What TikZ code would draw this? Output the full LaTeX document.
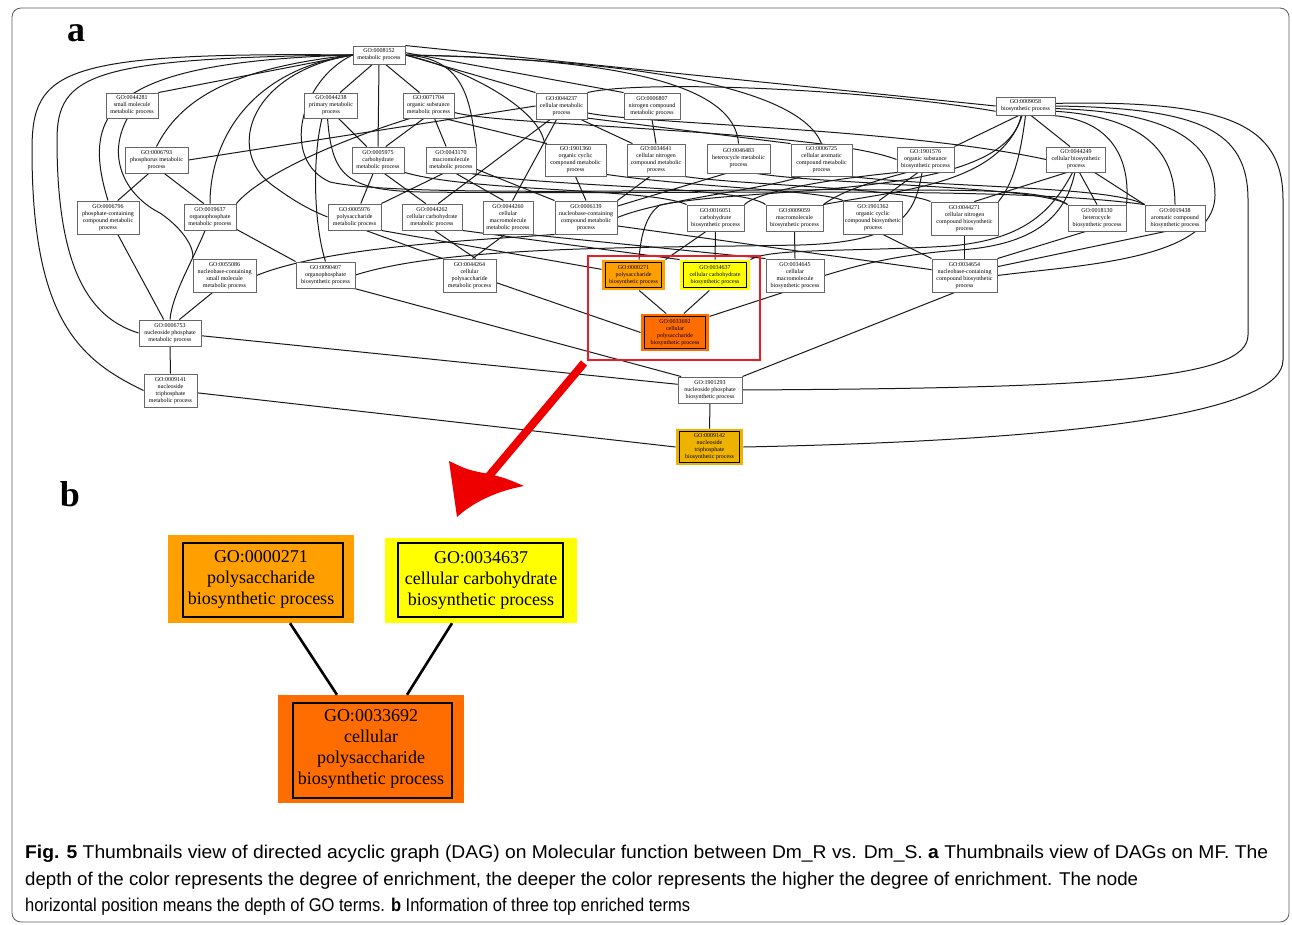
\documentclass[tikz,border=0pt]{standalone}
\usepackage{fontspec}
\setmainfont{Liberation Serif}
\newfontfamily\capfont{Liberation Sans}
\usetikzlibrary{calc}
\pgfdeclarelayer{bg}
\pgfsetlayers{bg,main}
\definecolor{goorange}{RGB}{255,160,0}
\definecolor{goyellow}{RGB}{255,255,0}
\definecolor{godark}{RGB}{255,108,0}
\definecolor{gogold}{RGB}{238,178,0}
\definecolor{arrowred}{RGB}{238,0,0}
\definecolor{boxred}{RGB}{235,28,36}
\definecolor{framegray}{RGB}{90,90,90}
\tikzset{
  gobox/.style={draw=black!60, line width=0.9pt, fill=white, align=center, inner sep=1pt,
    font=\fontsize{6}{7}\selectfont},
  colbox/.style={gobox, draw=none},
  e/.style={draw=black!90, line width=1pt},
  bigbox/.style={draw=none, align=center, inner sep=0pt, font=\fontsize{18}{21}\selectfont},
  be/.style={draw=black, line width=2.6pt},
  panellabel/.style={inner sep=0pt, font=\bfseries\fontsize{36}{36}\selectfont},
  capline/.style={anchor=base west, inner sep=0pt},
}
\newcommand\CapSize{\fontsize{18.5}{20}\selectfont}
\newcommand\CapLineA{\textbf{Fig. 5} Thumbnails view of directed acyclic graph (DAG) on Molecular function between Dm\_R vs. Dm\_S. \textbf{a} Thumbnails view of DAGs on MF. The}
\newcommand\CapLineB{depth of the color represents the degree of enrichment, the deeper the color represents the higher the degree of enrichment. The node}
\newcommand\CapLineC{horizontal position means the depth of GO terms. \textbf{b} Information of three top enriched terms}
\newlength\CapWd
\newcommand\GoNode[7][gobox]{\node[#1,minimum width=#5pt,minimum height=#6pt] (#2) at (#3,#4) {#7};}
\newcommand\InnerBox[3]{\draw[black, line width=0.8pt] ($(#1.north west)+(#2,#3)$) rectangle ($(#1.south east)+(-#2,-#3)$);}
\begin{document}
\settowidth\CapWd{\capfont\CapSize\CapLineA}%
\pgfmathsetmacro\CapSxA{1243/\CapWd}%
\settowidth\CapWd{\capfont\CapSize\CapLineB}%
\pgfmathsetmacro\CapSxB{1113/\CapWd}%
\settowidth\CapWd{\capfont\CapSize\CapLineC}%
\pgfmathsetmacro\CapSxC{665/\CapWd}%
\newfontfamily\capfontA[FakeStretch=\CapSxA]{Liberation Sans}%
\newfontfamily\capfontB[FakeStretch=\CapSxB]{Liberation Sans}%
\newfontfamily\capfontC[FakeStretch=\CapSxC]{Liberation Sans}%
\begin{tikzpicture}[x=1pt,y=-1pt]
\useasboundingbox (0,0) rectangle (1292,925);
\draw[framegray, line width=0.8pt, rounded corners=9pt] (12,8) rectangle (1289,922);

\node[panellabel] (la) at (76,33) {a};
\node[panellabel] (lb) at (70,494) {b};

% ---------- panel a nodes ----------
\GoNode{n8152}{379}{55}{52}{18}{GO:0008152\\metabolic process}
\GoNode{n44281}{132}{105.5}{52}{25}{GO:0044281\\small molecule\\metabolic process}
\GoNode{n44238}{331}{105.5}{53}{25}{GO:0044238\\primary metabolic\\process}
\GoNode{n71704}{428.5}{105.5}{51}{25}{GO:0071704\\organic substance\\metabolic process}
\GoNode{n44237}{561.5}{106}{51}{26}{GO:0044237\\cellular metabolic\\process}
\GoNode{n6807}{652}{106}{56}{26}{GO:0006807\\nitrogen compound\\metabolic process}
\GoNode{n9058}{1025.5}{106}{59}{18}{GO:0009058\\biosynthetic process}
\GoNode{n6793}{156.5}{160}{63}{26}{GO:0006793\\phosphorus metabolic\\process}
\GoNode{n5975}{378}{160}{52}{26}{GO:0005975\\carbohydrate\\metabolic process}
\GoNode{n43170}{451}{160}{50}{26}{GO:0043170\\macromolecule\\metabolic process}
\GoNode{n1901360}{575.5}{160}{61}{32}{GO:1901360\\organic cyclic\\compound metabolic\\process}
\GoNode{n34641}{656}{160}{58}{32}{GO:0034641\\cellular nitrogen\\compound metabolic\\process}
\GoNode{n46483}{738.5}{158.5}{63}{29}{GO:0046483\\heterocycle metabolic\\process}
\GoNode{n6725}{821.5}{160}{61}{32}{GO:0006725\\cellular aromatic\\compound metabolic\\process}
\GoNode{n1901576}{925.5}{159.5}{57}{25}{GO:1901576\\organic substance\\biosynthetic process}
\GoNode{n44249}{1076}{159.5}{59}{25}{GO:0044249\\cellular biosynthetic\\process}
\GoNode{n6796}{108}{217.5}{62}{33}{GO:0006796\\phosphate-containing\\compound metabolic\\process}
\GoNode{n19637}{210}{217}{52}{26}{GO:0019637\\organophosphate\\metabolic process}
\GoNode{n5976}{354.5}{217}{53}{26}{GO:0005976\\polysaccharide\\metabolic process}
\GoNode{n44262}{432}{217}{60}{26}{GO:0044262\\cellular carbohydrate\\metabolic process}
\GoNode{n44260}{508}{217.5}{50}{33}{GO:0044260\\cellular\\macromolecule\\metabolic process}
\GoNode{n6139}{586}{217.5}{62}{33}{GO:0006139\\nucleobase-containing\\compound metabolic\\process}
\GoNode{n16051}{715.5}{218}{57}{26}{GO:0016051\\carbohydrate\\biosynthetic process}
\GoNode{n9059}{794.5}{218}{57}{26}{GO:0009059\\macromolecule\\biosynthetic process}
\GoNode{n1901362}{873}{217.5}{59}{33}{GO:1901362\\organic cyclic\\compound biosynthetic\\process}
\GoNode{n44271}{964.5}{218.5}{67}{33}{GO:0044271\\cellular nitrogen\\compound biosynthetic\\process}
\GoNode{n18130}{1097}{218}{58}{26}{GO:0018130\\heterocycle\\biosynthetic process}
\GoNode{n19438}{1175}{218}{60}{26}{GO:0019438\\aromatic compound\\biosynthetic process}
\GoNode{n55086}{224.5}{275.5}{63}{33}{GO:0055086\\nucleobase-containing\\small molecule\\metabolic process}
\GoNode{n90407}{325.5}{275}{59}{26}{GO:0090407\\organophosphate\\biosynthetic process}
\GoNode{n44264}{469.5}{275.5}{53}{33}{GO:0044264\\cellular\\polysaccharide\\metabolic process}
\GoNode[colbox,fill=goorange]{n271}{633.5}{275}{63}{30}{GO:0000271\\polysaccharide\\biosynthetic process}
\GoNode[colbox,fill=goyellow]{n34637}{715}{275}{70}{30}{GO:0034637\\cellular carbohydrate\\biosynthetic process}
\GoNode{n34645}{795}{275.5}{58}{33}{GO:0034645\\cellular\\macromolecule\\biosynthetic process}
\GoNode{n34654}{964.5}{275.5}{65}{33}{GO:0034654\\nucleobase-containing\\compound biosynthetic\\process}
\GoNode{n6753}{170}{333}{62}{26}{GO:0006753\\nucleoside phosphate\\metabolic process}
\GoNode[colbox,fill=godark]{n33692}{675}{332.5}{68}{37}{GO:0033692\\cellular\\polysaccharide\\biosynthetic process}
\GoNode{n9141}{170.5}{390.5}{53}{33}{GO:0009141\\nucleoside\\triphosphate\\metabolic process}
\GoNode{n1901293}{710}{390}{64}{26}{GO:1901293\\nucleoside phosphate\\biosynthetic process}
\GoNode[colbox,fill=gogold]{n9142}{709.5}{447}{67}{36}{GO:0009142\\nucleoside\\triphosphate\\biosynthetic process}

\InnerBox{n271}{4}{3}
\InnerBox{n34637}{4}{3}
\InnerBox{n33692}{4}{3}
\InnerBox{n9142}{4}{3}

\node[draw=boxred, line width=2.5pt, minimum width=172pt, minimum height=104pt, inner sep=0pt] (redbox) at (674,308) {};

% ---------- panel a edges ----------
\begin{pgfonlayer}{bg}
% metabolic process
\draw[e] (n8152.west) -- (n44281.north east);
\draw[e] (n8152.235) -- (n44238.55);
\draw[e] (n8152.south) -- (n5975.north);
\draw[e] (n8152.305) -- (n71704.125);
\draw[e] (n8152.east) -- (n44237.north west);
\draw[e] (n8152.5) -- (n6807.north west);
\draw[e] (n8152.north east) -- (n9058.west);
\draw[e] (n8152.west) .. controls (230,68) and (180,100) .. (n6793.north);
\draw[e] (n8152.west) .. controls (110,62) and (80,110) .. (n6796.north);
\draw[e] (n8152.west) .. controls (90,58) and (57,75) .. (57,140) .. controls (57,270) and (90,318) .. (n6753.west);
\draw[e] (n8152.west) .. controls (60,52) and (32,70) .. (32,150) .. controls (32,320) and (80,360) .. (n9141.west);
\draw[e] (n8152.west) .. controls (250,70) and (210,140) .. (n19637.north);
\draw[e] (n8152.west) .. controls (250,72) and (225,150) .. (272,185) .. controls (290,198) and (305,208) .. (n5976.west);
\draw[e] (n8152.west) .. controls (300,80) and (280,160) .. (330,182) .. controls (400,198) and (700,188) .. (900,190) .. controls (1000,190) and (1050,192) .. (n18130.north west);
\draw[e] (n8152.east) .. controls (470,58) and (470,110) .. (n43170.north east);
\draw[e] (n8152.east) .. controls (470,70) and (540,110) .. (n1901360.north west);
\draw[e] (n8152.east) .. controls (620,58) and (735,85) .. (n46483.north);
\draw[e] (n8152.east) .. controls (650,60) and (800,90) .. (n6725.north);
% primary
\draw[e] (n44238.300) -- (n5975.130);
\draw[e] (n44238.235) .. controls (312,160) and (314,225) .. (n90407.north);
\draw[e] (n44238.255) .. controls (332,175) and (345,190) .. (420,192) .. controls (700,195) and (1000,185) .. (n19438.north west);
% organic substance
\draw[e] (n71704.250) -- (n5975.60);
\draw[e] (n71704.295) -- (n43170.110);
\draw[e] (n71704.215) .. controls (340,140) and (260,175) .. (n19637.north east);
\draw[e] (n71704.-15) .. controls (500,126) and (820,130) .. (n1901576.west);
\draw[e] (n71704.-40) -- (n1901360.150);
% cellular metabolic
\draw[e] (n44237.west) -- (n6793.east);
\draw[e] (n44237.230) -- (n44262.65);
\draw[e] (n44237.250) -- (n44260.75);
\draw[e] (n44237.-35) -- (n34641.145);
\draw[e] (n44237.-25) -- (n6725.north west);
\draw[e] (n44237.-15) .. controls (640,124) and (900,128) .. (n44249.west);
\draw[e] (n44237.north east) .. controls (640,80) and (860,88) .. (n9058.190);
% nitrogen compound
\draw[e] (n6807.south) -- (n34641.north);
% biosynthetic
\draw[e] (n9058.235) -- (n1901576.north east);
\draw[e] (n9058.300) -- (n44249.115);
\draw[e] (n9058.-20) .. controls (1120,120) and (1130,170) .. (n18130.north east);
\draw[e] (n9058.-10) .. controls (1160,118) and (1175,165) .. (n19438.north);
\draw[e] (n9058.-5) .. controls (1185,112) and (1215,150) .. (1215,195) .. controls (1215,260) and (1080,265) .. (n34654.east);
\draw[e] (n9058.east) .. controls (1200,108) and (1248,130) .. (1248,200) -- (1248,335) .. controls (1248,380) and (1100,388) .. (n1901293.east);
\draw[e] (n9058.5) .. controls (1230,100) and (1283,125) .. (1283,200) -- (1283,360) .. controls (1283,410) and (1100,440) .. (n9142.east);
\draw[e] (n9058.270) .. controls (1020,160) and (1012,185) .. (n44271.north east);
\draw[e] (n9058.250) .. controls (1000,185) and (900,190) .. (n9059.north east);
\draw[e] (n9058.245) .. controls (1005,200) and (760,185) .. (660,205) .. controls (645,215) and (640,240) .. (n271.70);
% organic substance biosynthetic
\draw[e] (n1901576.240) -- (n1901362.70);
\draw[e] (n1901576.205) .. controls (840,178) and (760,190) .. (n16051.north east);
\draw[e] (n1901576.215) .. controls (870,182) and (840,192) .. (n9059.north east);
\draw[e] (n1901576.255) .. controls (915,215) and (900,242) .. (800,245) .. controls (650,248) and (450,245) .. (n90407.east);
% cellular biosynthetic
\draw[e] (n44249.235) -- (n44271.60);
\draw[e] (n44249.285) -- (n18130.north);
\draw[e] (n44249.-35) -- (n19438.north west);
\draw[e] (n44249.255) .. controls (1050,215) and (1020,240) .. (950,246) .. controls (850,252) and (770,248) .. (n34637.north east);
\draw[e] (n44249.265) .. controls (1065,220) and (1030,245) .. (960,250) .. controls (890,255) and (850,268) .. (n34645.east);
% row 2 to row 3
\draw[e] (n1901360.south) -- (n6139.north);
\draw[e] (n1901360.-25) .. controls (700,188) and (820,190) .. (n1901362.north west);
\draw[e] (n34641.250) -- (n6139.north east);
\draw[e] (n34641.-30) .. controls (740,185) and (900,188) .. (n44271.north west);
\draw[e] (n46483.230) -- (n6139.20);
\draw[e] (n46483.-40) .. controls (830,185) and (1040,186) .. (n18130.north west);
\draw[e] (n6725.220) .. controls (760,190) and (660,200) .. (n6139.east);
\draw[e] (n6725.-30) .. controls (950,188) and (1110,186) .. (n19438.north west);
\draw[e] (n5975.250) -- (n5976.65);
\draw[e] (n5975.295) -- (n44262.115);
\draw[e] (n5975.-25) .. controls (470,192) and (650,188) .. (n16051.north west);
\draw[e] (n43170.240) -- (n5976.north east);
\draw[e] (n43170.290) -- (n44260.105);
\draw[e] (n43170.-20) -- (n6139.north west);
\draw[e] (n43170.-35) .. controls (560,188) and (740,186) .. (n9059.north west);
\draw[e] (n6793.240) -- (n6796.60);
\draw[e] (n6793.300) -- (n19637.115);
% row 3 to row 4/5
\draw[e] (n44281.250) .. controls (105,160) and (128,197) .. (160,213) .. controls (185,230) and (195,250) .. (n55086.north west);
\draw[e] (n6796.-60) -- (n6753.115);
\draw[e] (n19637.250) .. controls (192,262) and (172,295) .. (n6753.north);
\draw[e] (n55086.235) -- (n6753.55);
\draw[e] (n19637.-25) -- (n90407.north west);
\draw[e] (n6139.south west) .. controls (480,240) and (330,246) .. (n55086.east);
\draw[e] (n5976.-50) -- (n44264.north west);
\draw[e] (n5976.south east) -- (n271.170);
\draw[e] (n44262.-80) -- (n44264.70);
\draw[e] (n44260.260) -- (n44264.80);
\draw[e] (n44262.south east) -- (n34637.north west);
\draw[e] (n44260.-40) -- (n34645.north west);
\draw[e] (n16051.south) -- (n34637.north);
\draw[e] (n16051.235) -- (n271.north east);
\draw[e] (n9059.south) -- (n34645.north);
\draw[e] (n6139.-15) -- (n34654.170);
\draw[e] (n1901362.-60) -- (n34654.north west);
\draw[e] (n44271.south) -- (n34654.north);
\draw[e] (n18130.230) -- (n34654.north east);
\draw[e] (n19438.235) -- (n34654.15);
\draw[e] (n271.-70) -- (n33692.115);
\draw[e] (n34637.-110) -- (n33692.65);
\draw[e] (n44264.-15) -- (n33692.west);
\draw[e] (n34645.235) -- (n33692.25);
\draw[e] (n6753.south) -- (n9141.north);
\draw[e] (n6753.-5) -- (n1901293.170);
\draw[e] (n90407.-25) -- (n1901293.155);
\draw[e] (n34654.240) -- (n1901293.north east);
\draw[e] (n9141.-5) -- (n9142.west);
\draw[e] (n1901293.south) -- (n9142.north);
\end{pgfonlayer}

% ---------- red arrow ----------
\coordinate (arrS) at (584,363);
\coordinate (arrB) at (489,476);
\coordinate (arrT) at (457,517);
\draw[arrowred, line width=8pt] (arrS) -- (arrB);
\fill[arrowred] (arrT) -- (449,461) .. controls (468,470) .. (489,474) .. controls (505,478) .. (524,486) .. controls (492,492) and (470,505) .. cycle;

% ---------- panel b ----------
\node[bigbox, fill=goorange, minimum width=186pt, minimum height=88pt] (b1) at (261,579) {GO:0000271\\polysaccharide\\biosynthetic process};
\node[bigbox, fill=goyellow, minimum width=192pt, minimum height=85pt] (b2) at (481,580.5) {GO:0034637\\cellular carbohydrate\\biosynthetic process};
\node[bigbox, fill=godark, minimum width=186pt, minimum height=108pt] (b3) at (371,749) {GO:0033692\\cellular\\polysaccharide\\biosynthetic process};
\draw[black, line width=1.8pt] ($(b1.north west)+(15,8)$) rectangle ($(b1.south east)+(-11,-6)$);
\draw[black, line width=1.8pt] ($(b2.north west)+(13,5)$) rectangle ($(b2.south east)+(-14,-6)$);
\draw[black, line width=1.8pt] ($(b3.north west)+(15,8)$) rectangle ($(b3.south east)+(-12,-5)$);
\draw[be] ([xshift=29pt]b1.south) -- ([xshift=-34pt]b3.north);
\draw[be] ([xshift=-29pt]b2.south) -- ([xshift=36pt]b3.north);

% ---------- caption ----------
\node[capline, font=\capfontA\CapSize] (cap1) at (25,858) {\CapLineA};
\node[capline, font=\capfontB\CapSize] (cap2) at (25,885) {\CapLineB};
\node[capline, font=\capfontC\CapSize] (cap3) at (25,911) {\CapLineC};
\end{tikzpicture}
\end{document}
